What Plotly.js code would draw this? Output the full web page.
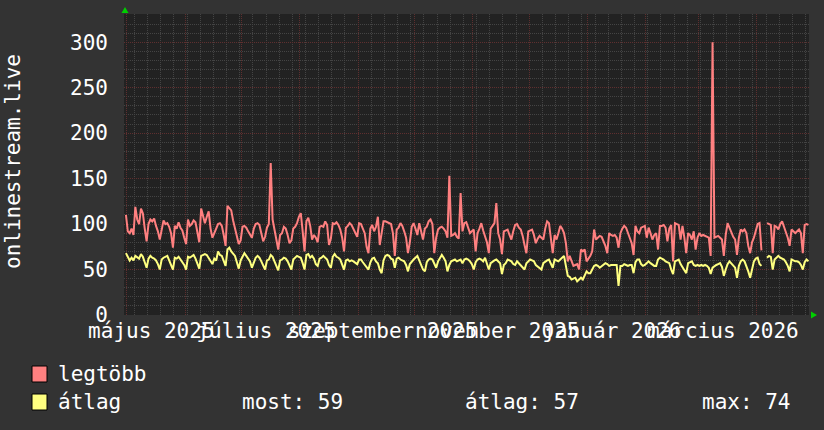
<!DOCTYPE html>
<html><head><meta charset="utf-8">
<script src="https://cdn.plot.ly/plotly-3.0.1.min.js"></script>
<style>html,body{margin:0;padding:0;background:#333333;}#chart{width:824px;height:430px;}</style>
</head><body><div id="chart"></div>
<script>
// daily values, first day 2025-04-30
const startDate = [2025, 3, 30];
const legtobb = [
 110, 92, 90, 95, 88,
 119, 105, 100, 117, 112, 95, 81,
 100, 105, 103, 106, 98, 92, 83,
 96, 104, 100, 101, 97, 90, 74,
 98, 95, 102, 96, 93, 85, 78,
 105, 98, 100, 104, 102, 92, 80,
 117, 110, 101, 108, 114, 95, 85,
 90, 95, 100, 101, 98, 88, 76,
 120, 118, 115, 104, 94, 85, 78,
 82, 97, 98, 96, 92, 88, 85,
 95, 100, 101, 99, 90, 81, 86,
 96, 100, 167, 105, 94, 85, 72,
 88, 90, 97, 95, 88, 79, 82,
 95, 97, 101, 108, 112, 92, 70,
 103, 107, 98, 83, 88, 85, 80,
 97, 98, 97, 103, 99, 77, 84,
 101, 100, 102, 99, 94, 85, 70,
 96, 98, 101, 99, 94, 90, 86,
 101, 100, 95, 90, 75, 68, 95,
 99, 92, 97, 108, 77, 90, 103,
 103, 102, 101, 100, 90, 65, 94,
 96, 101, 98, 92, 85, 68, 80,
 97, 101, 95, 88, 101, 92, 83,
 95, 97, 103, 105, 100, 68, 85,
 94, 96, 97, 95, 92, 85, 153,
 87, 88, 90, 86, 84, 134, 92,
 101, 102, 96, 90, 92, 94, 70,
 90, 95, 101, 93, 87, 80, 68,
 95, 98, 101, 123, 90, 83, 67,
 92, 93, 94, 88, 83, 92, 99,
 100, 96, 94, 87, 77, 68, 92,
 93, 94, 88, 79, 84, 87, 85,
 83, 95, 103, 101, 85, 68, 88,
 83, 90, 98, 95, 90, 79, 59,
 65, 60, 54, 55, 56, 50, 72,
 70, 72, 59, 62, 65, 70, 94,
 83, 85, 87, 86, 81, 76, 68,
 90, 88, 87, 88, 85, 74, 90,
 95, 98, 96, 90, 85, 79, 66,
 98, 92, 90, 96, 97, 98, 85,
 96, 90, 83, 88, 90, 72, 98,
 98, 99, 96, 81, 95, 99, 59,
 101, 100, 99, 83, 98, 85, 68,
 90, 88, 83, 92, 72, 85, 90,
 87, 88, 87, 86, 85, 65, 300,
 85, 86, 87, 85, 83, 65, 88,
 101, 96, 90, 86, 83, 66, 85,
 94, 92, 94, 90, 76, 68, 80,
 85, 92, 100, 101, 71, null, null,
 101, 100, 99, 68, 98, 97, 94,
 100, 103, 97, 92, 85, 76, 94,
 92, 90, 92, 94, 90, 68, 99,
 100, 99
];
const atlag = [
 68, 64, 60, 63, 60,
 65, 63, 62, 67, 64, 58, 52,
 62, 65, 63, 62, 60, 56, 50,
 61, 63, 64, 65, 60, 55, 50,
 63, 62, 64, 61, 58, 55, 50,
 64, 63, 65, 66, 62, 57, 51,
 65, 66, 67, 66, 63, 60, 56,
 62, 60, 70, 66, 65, 60, 54,
 72, 74, 70, 68, 65, 58, 51,
 60, 65, 68, 65, 62, 59, 52,
 58, 63, 65, 63, 59, 55, 50,
 60, 61, 66, 64, 59, 54, 49,
 60, 61, 63, 62, 59, 55, 50,
 61, 63, 65, 64, 63, 57, 50,
 66, 67, 63, 65, 62, 56, 54,
 62, 63, 65, 63, 61, 55, 52,
 64, 67, 64, 63, 61, 56, 50,
 60, 61, 59, 60, 59, 57, 56,
 61, 61, 58, 55, 52, 50, 58,
 62, 63, 59, 57, 50, 46, 60,
 65, 66, 65, 62, 61, 52, 62,
 63, 61, 60, 59, 55, 48, 56,
 59, 61, 63, 65, 60, 55, 50,
 48, 58, 61, 62, 61, 56, 52,
 59, 62, 66, 63, 59, 48, 55,
 59, 60, 61, 59, 60, 61, 57,
 61, 62, 61, 59, 56, 50, 58,
 61, 62, 61, 59, 63, 55, 50,
 57, 59, 60, 61, 59, 57, 45,
 55, 57, 61, 60, 59, 56, 55,
 59, 57, 55, 52, 50, 57, 59,
 61, 60, 59, 55, 53, 52, 50,
 57, 59, 60, 61, 56, 52, 61,
 60, 59, 61, 63, 65, 54, 43,
 42, 39, 40, 41, 37, 39, 41,
 39, 44, 48, 46, 46, 50, 54,
 55, 54, 52, 54, 55, 57, 56,
 54, 55, 55, 55, 55, 32, 54,
 54, 56, 55, 54, 55, 55, 46,
 58, 61, 61, 56, 54, 55, 57,
 59, 57, 55, 54, 54, 61, 63,
 62, 61, 59, 58, 57, 50, 45,
 59, 60, 61, 56, 53, 50, 46,
 57, 58, 59, 55, 54, 55, 54,
 55, 54, 55, 54, 52, 45, 52,
 54, 55, 56, 57, 53, 43, 50,
 56, 59, 57, 55, 52, 41, 54,
 59, 61, 59, 54, 48, 41, 50,
 59, 62, 63, 56, 54, null, null,
 63, 65, 64, 50, 61, 63, 65,
 63, 62, 61, 58, 54, 48, 61,
 60, 59, 59, 58, 55, 50, 58,
 61, 59
];
const seriesNames = ['legtöbb', 'átlag'];
const seriesColors = ['#ff8080', '#ffff80'];
const monthLabels = ['május 2025', 'július 2025', 'szeptember 2025', 'november 2025', 'január 2026', 'március 2026'];
const monthLabelDates = ['2025-05-14', '2025-07-14', '2025-09-14', '2025-11-14', '2026-01-14', '2026-03-14'];
const monthStarts = ['2025-05-01','2025-06-01','2025-07-01','2025-08-01','2025-09-01','2025-10-01','2025-11-01','2025-12-01','2026-01-01','2026-02-01','2026-03-01','2026-04-01'];
const yTicks = [0, 50, 100, 150, 200, 250, 300];
const statLabels = ['most: 59', 'átlag: 57', 'max: 74'];
const yTitle = 'onlinestream.live';

function dayStr(i) {
  const d = new Date(Date.UTC(startDate[0], startDate[1], startDate[2]));
  d.setUTCDate(d.getUTCDate() + i);
  return d.toISOString().slice(0, 10);
}
const dates = legtobb.map((_, i) => dayStr(i) + ' 12:00');
// weekly minor grid (Mondays)
const weekly = [];
for (let i = 5; i < legtobb.length; i += 7) weekly.push(dayStr(i));

const F = 'DejaVu Sans Mono';
const PL = 124, PR = 809, PT = 14, PB = 315;
const PW = PR - PL, PH = PB - PT;
const px = x => (x - PL) / PW;
const py = y => (PB - y) / PH;
const xRange = ['2025-04-29 11:15', '2026-04-28 19:10'];

const traces = [
  {x: dates, y: legtobb, type: 'scatter', mode: 'lines', name: seriesNames[0], line: {color: seriesColors[0], width: 2}, connectgaps: false},
  {x: dates, y: atlag, type: 'scatter', mode: 'lines', name: seriesNames[1], line: {color: seriesColors[1], width: 2}, connectgaps: false},
  {x: [xRange[0]], y: [null], xaxis: 'x2', type: 'scatter', mode: 'lines', showlegend: false, hoverinfo: 'skip'}
];

const gridRed = '#5e2f2f';
const gridGray = '#444444';
const dash = '1px,1px';

const green = '#00d000';
const shapes = [
  {type: 'path', xref: 'paper', yref: 'paper', path: `M ${px(125)},${py(7)} L ${px(121.5)},${py(13)} L ${px(128.5)},${py(13)} Z`, fillcolor: green, line: {width: 0}},
  {type: 'path', xref: 'paper', yref: 'paper', path: `M ${px(817)},${py(315)} L ${px(811)},${py(311.5)} L ${px(811)},${py(318.5)} Z`, fillcolor: green, line: {width: 0}},
  {type: 'rect', xref: 'paper', yref: 'paper', x0: px(32), x1: px(47), y0: py(366), y1: py(382), fillcolor: seriesColors[0], line: {color: '#000000', width: 1}},
  {type: 'rect', xref: 'paper', yref: 'paper', x0: px(32), x1: px(47), y0: py(394), y1: py(410), fillcolor: seriesColors[1], line: {color: '#000000', width: 1}}
];

const txt = (t, x, y, anchor) => ({text: t, xref: 'paper', yref: 'paper', x: px(x), y: py(y), xanchor: anchor || 'left', yanchor: 'middle', showarrow: false, font: {family: F, size: 21, color: '#ffffff'}, borderpad: 0});
const annotations = [
  txt(seriesNames[0], 57, 374),
  txt(seriesNames[1], 57, 402),
  txt(statLabels[0], 241, 402),
  txt(statLabels[1], 464, 402),
  txt(statLabels[2], 701, 402),
  Object.assign(txt(yTitle, 13, 161, 'center'), {textangle: -90})
];

const layout = {
  width: 824, height: 430,
  paper_bgcolor: '#333333', plot_bgcolor: '#222222',
  margin: {l: PL, r: 824 - PR, t: PT, b: 430 - PB},
  showlegend: false,
  font: {family: F, size: 21, color: '#ffffff'},
  xaxis: {
    type: 'date', range: xRange, tickmode: 'array', tickvals: monthStarts, ticktext: monthStarts.map(() => ''),
    showgrid: true, gridcolor: gridRed, griddash: dash, gridwidth: 1, ticks: '', zeroline: false, showline: false,
    minor: {tickmode: 'array', tickvals: weekly, showgrid: true, gridcolor: gridGray, griddash: dash, gridwidth: 1, ticks: ''}
  },
  xaxis2: {
    type: 'date', overlaying: 'x', anchor: 'y', side: 'bottom', range: xRange, tickmode: 'array',
    tickvals: monthLabelDates, ticktext: monthLabels, showgrid: false, ticks: '', zeroline: false, showline: false,
    tickangle: 0, tickfont: {family: F, size: 21, color: '#ffffff'}, ticklabelstandoff: 1, ticklabeloverflow: 'allow'
  },
  yaxis: {
    range: [0, 331], tickmode: 'array', tickvals: yTicks, showgrid: true, gridcolor: gridRed, griddash: dash, gridwidth: 1,
    ticks: '', zeroline: false, showline: false, ticklabelstandoff: 15,
    tickfont: {family: F, size: 21, color: '#ffffff'},
    minor: {tickmode: 'linear', tick0: 0, dtick: 10, showgrid: true, gridcolor: gridGray, griddash: dash, gridwidth: 1, ticks: ''}
  },
  shapes: shapes,
  annotations: annotations
};

Plotly.newPlot('chart', traces, layout, {staticPlot: true, displayModeBar: false});
</script>
</body></html>
